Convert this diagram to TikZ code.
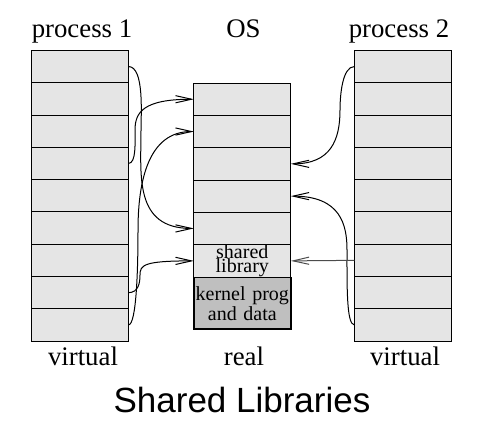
\documentclass[tikz,border=0pt]{standalone}
\usepackage{fontspec}
\setmainfont{Liberation Serif}
\newfontfamily\capfont{Liberation Sans}
\usetikzlibrary{positioning,matrix,arrows.meta}

\begin{document}
\begin{tikzpicture}[x=0.5pt, y=0.5pt, %
        col/.style={matrix of nodes, ampersand replacement=\&,
          nodes in empty cells, inner sep=0pt, outer sep=0pt,
          row sep=-\pgflinewidth, anchor=north west,
          nodes={draw, fill=gray!20, anchor=center, inner sep=0pt,
            minimum width=48.5pt, minimum height=16.15pt,
            text width=48.5pt, align=center,
            font=\fontsize{10}{10}\selectfont}},
        lbl/.style={font=\fontsize{13.4}{16}\selectfont, anchor=base},
        link/.style={-{Straight Barb[length=8pt,width=3.6pt]}, line width=0.5pt}
        ]
        \useasboundingbox (0,0) rectangle (491,421);
        \matrix[col] (P1) at (31,371) {
          \\ \\ \\ \\ \\ \\ \\ \\ \\
        };
        \matrix[col] (OS) at (193,338.3) {
          \\ \\ \\ \\ \\
          |[font=\fontsize{10}{7.2}\selectfont]| {shared\\library} \\
          |[fill=gray!50, minimum height=25.75pt, line width=0.8pt]| {kernel prog\\and data} \\
        };
        \matrix[col] (P2) at (354,371) {
          \\ \\ \\ \\ \\ \\ \\ \\ \\
        };
        % column titles
        \node[lbl] (t1) at (82,383.7) {process 1};
        \node[lbl] (t2) at (243.5,383.7) {OS};
        \node[lbl] (t3) at (399,383.7) {process 2};
        \node[lbl] (b1) at (83,55) {virtual};
        \node[lbl] (b2) at (244,55) {real};
        \node[lbl] (b3) at (405,55) {virtual};
        \node[font=\capfont\fontsize{17.5}{20}\selectfont, anchor=base] (cap) at (242,8) {Shared Libraries};
        % mappings
        \draw[link] (P1-1-1.east) .. controls +(16,0) and +(0,16) .. (141,291)
          .. controls +(0,-45) and +(-60,0) .. (OS-5-1.west);
        \draw[link] (P1-4-1.east) .. controls +(8,0) and +(0,-12) .. (135,291)
          .. controls +(0,18) and +(-50,0) .. (OS-1-1.west);
        \draw[link] (P1-9-1.east) .. controls +(8,0) and +(0,-40) .. (138,191)
          .. controls +(0,50) and +(-45,0) .. (OS-2-1.west);
        \draw[link] (P1-8-1.east) .. controls +(10,0) and +(0,-8) .. (140,146)
          .. controls +(0,10) and +(-50,0) .. (OS-6-1.west);
        \draw[link] (P2-1-1.west) .. controls +(-12,0) and +(0,15) .. (340,311)
          .. controls +(0,-30) and +(40,0) .. (OS-3-1.east);
        \draw[link] (P2-9-1.west) .. controls +(-8,0) and +(0,-35) .. (347,171)
          .. controls +(0,25) and +(50,0) .. (OS-4-1.east);
        \draw[link, draw=black!70] (P2-7-1.west) -- (OS-6-1.east);
      \end{tikzpicture}
\end{document}
